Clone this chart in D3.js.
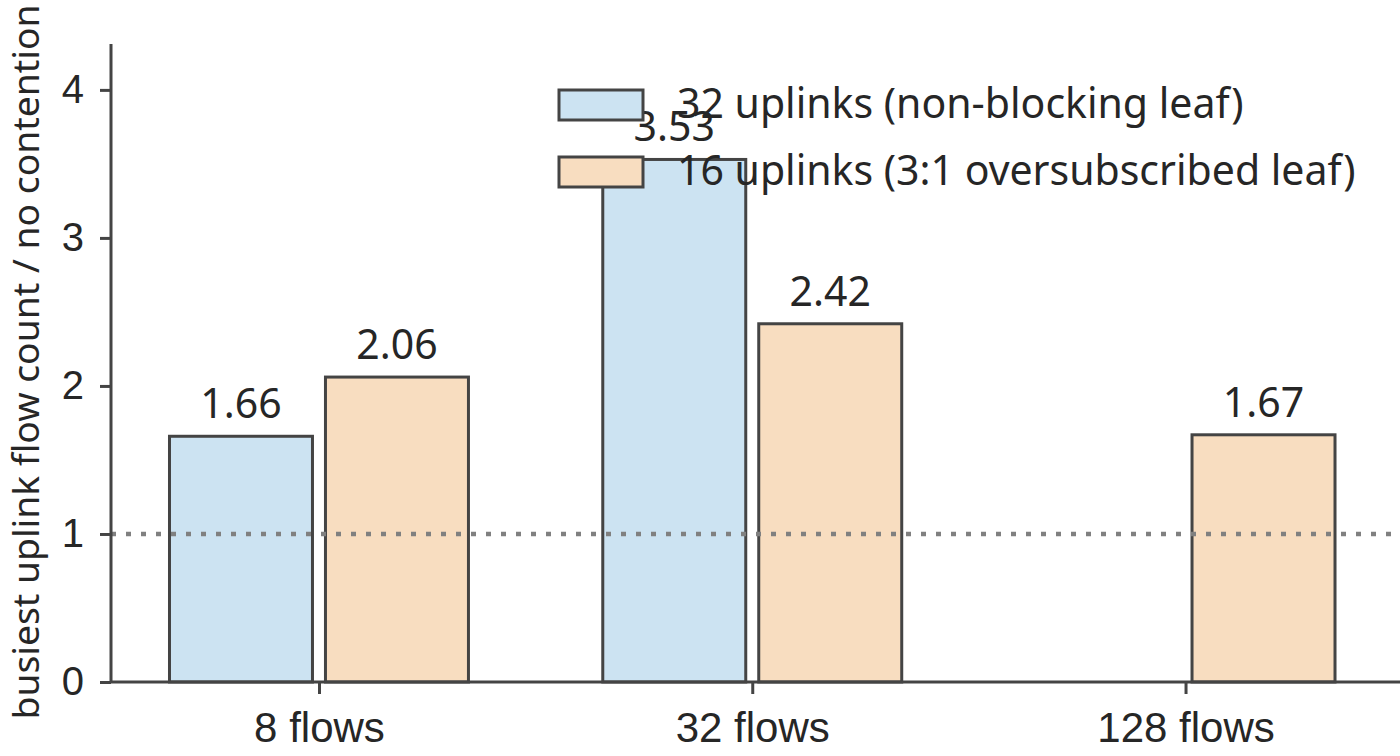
<!DOCTYPE html>
<html>
<head>
<meta charset="utf-8">
<script src="https://cdn.jsdelivr.net/npm/d3@7"></script>
<style>
  body { margin: 0; background: #fff; }
  svg { font-family: "Source Sans Pro", "Noto Sans", sans-serif; }
</style>
</head>
<body>
<svg id="chart" width="1400" height="756"></svg>
<script>
// data
var categories = ["8 flows", "32 flows", "128 flows"];
var seriesNames = ["32 uplinks (non-blocking leaf)", "16 uplinks (3:1 oversubscribed leaf)"];
var nonBlocking = [1.66, 3.53, null];
var oversubscribed = [2.06, 2.42, 1.67];
var yTicks = [0, 1, 2, 3, 4];
var baseline = 1;

var colors = ["#cce3f2", "#f8ddc0"];
var edge = "#444444";
var ink = "#262626";

var svg = d3.select("#chart");
var margin = { top: 44, right: 0, bottom: 74, left: 111 };
var width = +svg.attr("width") - margin.left - margin.right,
  height = +svg.attr("height") - margin.top - margin.bottom;

var g = svg.append("g")
  .attr("transform", "translate(" + margin.left + "," + margin.top + ")");

// categories sit at 0,1,2 on a linear scale, matplotlib style
var x = d3.scaleLinear().domain([-0.48, 2.495]).range([0, width]);
var y = d3.scaleLinear().domain([0, 4.31]).range([height, 0]);

var barW = 0.33, offset = 0.18;

var series = [nonBlocking, oversubscribed];
series.forEach(function(vals, s) {
  var rows = vals.map(function(v, i) { return { i: i, v: v }; })
    .filter(function(d) { return d.v != null; });
  var dx = s == 0 ? -offset : offset;

  g.selectAll(".bar" + s)
    .data(rows)
    .enter()
    .append("rect")
    .attr("class", "bar" + s)
    .attr("x", function(d) { return x(d.i + dx - barW / 2); })
    .attr("y", function(d) { return y(d.v); })
    .attr("width", x(barW) - x(0))
    .attr("height", function(d) { return height - y(d.v); })
    .attr("fill", colors[s])
    .attr("stroke", edge)
    .attr("stroke-width", 3);
});

// reference line at 1
g.append("line")
  .attr("x1", 0)
  .attr("x2", width)
  .attr("y1", y(baseline))
  .attr("y2", y(baseline))
  .attr("stroke", "#808080")
  .attr("stroke-width", 4.5)
  .attr("stroke-dasharray", "5,10");

// axes
var yAxis = g.append("g")
  .call(d3.axisLeft(y).tickValues(yTicks).tickFormat(d3.format("d")).tickSize(11).tickPadding(16));
var xAxis = g.append("g")
  .attr("transform", "translate(0," + height + ")")
  .call(d3.axisBottom(x).tickValues([0, 1, 2]).tickFormat(function(d) { return categories[d]; }).tickSize(12).tickPadding(18));

[yAxis, xAxis].forEach(function(a) {
  a.select(".domain").attr("stroke", edge).attr("stroke-width", 3);
  a.selectAll(".tick line").attr("stroke", edge).attr("stroke-width", 3);
  a.selectAll(".tick text").attr("fill", ink).style("font-size", "40px");
});
xAxis.selectAll(".tick text").style("font-size", "42px");
yAxis.select(".domain").attr("d", "M0," + height + "V0");
xAxis.select(".domain").attr("d", "M0,0H" + width);

// value labels
series.forEach(function(vals, s) {
  var dx = s == 0 ? -offset : offset;
  g.selectAll(".lab" + s)
    .data(vals.map(function(v, i) { return { i: i, v: v }; }).filter(function(d) { return d.v != null; }))
    .enter()
    .append("text")
    .attr("x", function(d) { return x(d.i + dx); })
    .attr("y", function(d) { return y(d.v) - 18; })
    .attr("text-anchor", "middle")
    .attr("fill", ink)
    .style("font-size", "41px")
    .text(function(d) { return d.v.toFixed(2); });
});

// y label
svg.append("text")
  .attr("transform", "translate(39," + (margin.top + height / 2 - 1) + ") rotate(-90)")
  .attr("text-anchor", "middle")
  .attr("fill", ink)
  .style("font-size", "37.3px")
  .text("busiest uplink flow count / no contention");

// legend
var legend = svg.append("g").attr("transform", "translate(559,90)");
seriesNames.forEach(function(name, s) {
  var row = legend.append("g").attr("transform", "translate(0," + s * 67 + ")");
  row.append("rect")
    .attr("width", 84)
    .attr("height", 30)
    .attr("fill", colors[s])
    .attr("stroke", edge)
    .attr("stroke-width", 3);
  row.append("text")
    .attr("x", 118)
    .attr("y", 28)
    .attr("fill", ink)
    .style("font-size", "41px")
    .text(name);
});
</script>
</body>
</html>
